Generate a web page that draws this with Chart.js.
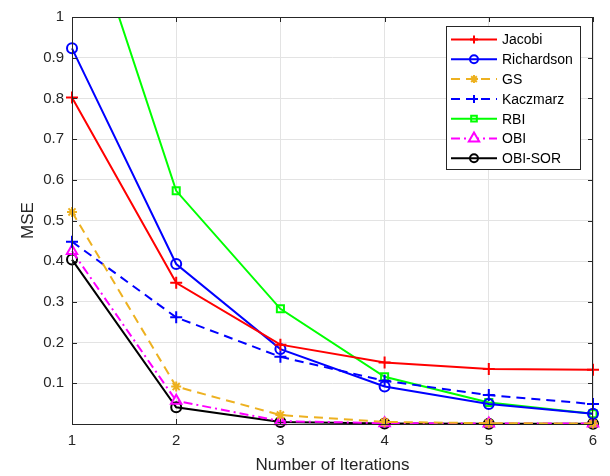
<!DOCTYPE html>
<html>
<head>
<meta charset="utf-8">
<script src="https://cdn.jsdelivr.net/npm/chart.js@4.4.1/dist/chart.umd.min.js"></script>
<style>
  html, body { margin: 0; padding: 0; background: #fff; }
  #wrap { width: 610px; height: 476px; }
</style>
</head>
<body>
<div id="wrap"><canvas id="mseChart"></canvas></div>
<script>
// iterations on x axis
var iterations = [1, 2, 3, 4, 5, 6];

// MSE per method
var jacobi     = [0.802, 0.347, 0.195, 0.151, 0.135, 0.133];
var richardson = [0.923, 0.393, 0.184, 0.092, 0.049, 0.025];
var gs         = [0.521, 0.092, 0.022, 0.005, 0.002, 0.001];
var kaczmarz   = [0.448, 0.262, 0.165, 0.106, 0.071, 0.049];
var rbi        = [1.35, 0.573, 0.283, 0.116, 0.053, 0.025];
var obi        = [0.425, 0.057, 0.007, 0.002, 0.001, 0.001];
var obiSor     = [0.404, 0.041, 0.005, 0.001, 0.0005, 0.0005];

var yTicks = [0.1, 0.2, 0.3, 0.4, 0.5, 0.6, 0.7, 0.8, 0.9, 1];

function pts(vals) {
    return vals.map(function (v, i) { return { x: iterations[i], y: v }; });
}

function series(label, vals, color, marker, dash, radius) {
    return {
        label: label,
        data: pts(vals),
        borderColor: color,
        backgroundColor: 'transparent',
        borderWidth: 2,
        borderDash: dash,
        pointStyle: marker,
        pointRadius: radius,
        pointBorderColor: color,
        pointBackgroundColor: 'transparent',
        pointBorderWidth: 2,
        tension: 0,
        clip: { left: 10, right: 10, top: 0, bottom: 10 }
    };
}

// box around the axes, inward ticks, legend inside plot
var matlabBox = {
    id: 'matlabBox',
    afterDatasetsDraw: function (chart) {
        var c = chart.ctx, a = chart.chartArea;
        var xs = chart.scales.x, ys = chart.scales.y;
        c.save();
        c.strokeStyle = '#262626';
        c.lineWidth = 1;
        c.strokeRect(a.left + 0.5, a.top + 0.5, a.right - a.left - 1, a.bottom - a.top);
        c.beginPath();
        iterations.forEach(function (v) {
            var px = Math.round(xs.getPixelForValue(v)) + 0.5;
            c.moveTo(px, a.bottom); c.lineTo(px, a.bottom - 5);
            c.moveTo(px, a.top); c.lineTo(px, a.top + 5);
        });
        yTicks.forEach(function (v) {
            var py = Math.round(ys.getPixelForValue(v)) + 0.5;
            c.moveTo(a.left, py); c.lineTo(a.left + 5, py);
            c.moveTo(a.right, py); c.lineTo(a.right - 5, py);
        });
        c.stroke();

        // legend
        var lx = 446, ly = 26, lw = 134, lh = 143;
        c.fillStyle = '#fff';
        c.fillRect(lx, ly, lw, lh);
        c.strokeStyle = '#262626';
        c.strokeRect(lx + 0.5, ly + 0.5, lw, lh);
        c.font = '14px "Liberation Sans", Arial, sans-serif';
        c.textBaseline = 'middle';
        chart.data.datasets.forEach(function (ds, i) {
            var y = ly + 13.5 + i * 19.8;
            c.strokeStyle = ds.borderColor;
            c.lineWidth = 2;
            c.setLineDash(ds.borderDash || []);
            c.beginPath();
            c.moveTo(451, y); c.lineTo(497, y);
            c.stroke();
            c.setLineDash([]);
            c.fillStyle = ds.pointStyle === 'triangle' ? '#ffffff' : 'rgba(0,0,0,0)';
            c.strokeStyle = ds.borderColor;
            Chart.helpers.drawPoint(c, {
                pointStyle: ds.pointStyle,
                radius: ds.pointStyle === 'triangle' ? 6 : 4,
                borderWidth: 2,
                rotation: 0
            }, 474, y);
            c.fillStyle = '#000';
            c.fillText(ds.label, 502, y + 1);
        });
        c.restore();
    }
};

var ctx = document.getElementById('mseChart').getContext('2d');
var mseChart = new Chart(ctx, {
    type: 'line',
    data: {
        datasets: [
            series('Jacobi', jacobi, '#ff0000', 'cross', [], 6),
            series('Richardson', richardson, '#0000ff', 'circle', [], 5),
            series('GS', gs, '#EDB120', 'star', [9, 6], 5),
            series('Kaczmarz', kaczmarz, '#0000ff', 'cross', [9, 6], 6),
            series('RBI', rbi, '#00ff00', 'rect', [], 5),
            series('OBI', obi, '#ff00ff', 'triangle', [9, 4, 2, 4], 6),
            series('OBI-SOR', obiSor, '#000000', 'circle', [], 5)
        ]
    },
    options: {
        responsive: true,
        maintainAspectRatio: false,
        animation: false,
        layout: { padding: { top: 13, right: 17, left: 0, bottom: 0 } },
        plugins: {
            legend: { display: false },
            tooltip: { enabled: false }
        },
        scales: {
            x: {
                type: 'linear',
                min: 1,
                max: 6,
                afterFit: function (s) { s.height = 52; },
                afterBuildTicks: function (s) {
                    s.ticks = iterations.map(function (v) { return { value: v }; });
                },
                grid: { color: '#e3e3e3', drawTicks: false },
                border: { display: false },
                ticks: {
                    padding: 8,
                    color: '#262626',
                    font: { size: 15, family: '"Liberation Sans", Arial, sans-serif' }
                },
                title: {
                    display: true,
                    text: 'Number of Iterations',
                    color: '#262626',
                    padding: { top: 2, bottom: 0 },
                    font: { size: 17, family: '"Liberation Sans", Arial, sans-serif' }
                }
            },
            y: {
                min: 0,
                max: 1,
                afterFit: function (s) { s.width = 72; },
                afterBuildTicks: function (s) {
                    s.ticks = yTicks.map(function (v) { return { value: v }; });
                },
                grid: { color: '#e3e3e3', drawTicks: false },
                border: { display: false },
                ticks: {
                    padding: 8,
                    color: '#262626',
                    font: { size: 15, family: '"Liberation Sans", Arial, sans-serif' },
                    callback: function (v) { return String(Math.round(v * 10) / 10); }
                },
                title: {
                    display: true,
                    text: 'MSE',
                    color: '#262626',
                    padding: { top: 18, bottom: 8 },
                    font: { size: 17, family: '"Liberation Sans", Arial, sans-serif' }
                }
            }
        }
    },
    plugins: [matlabBox]
});
</script>
</body>
</html>
